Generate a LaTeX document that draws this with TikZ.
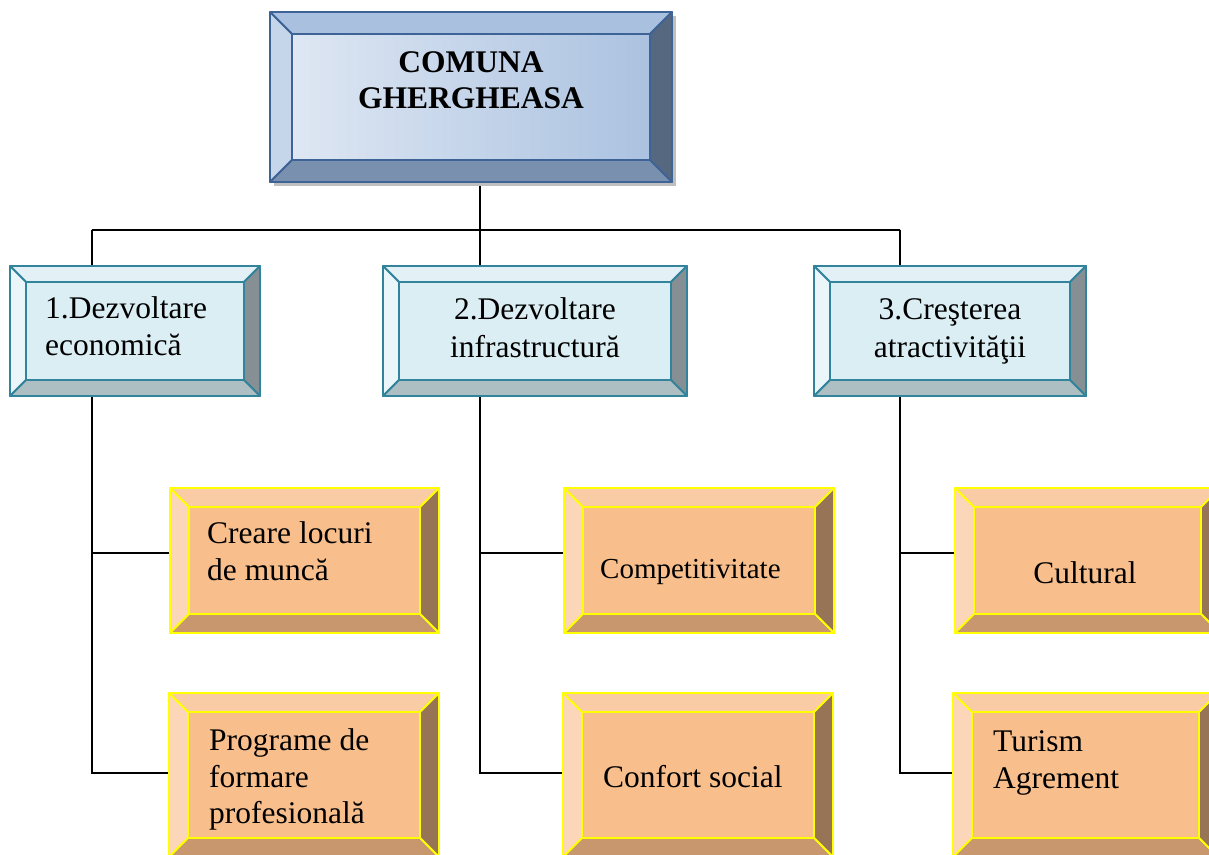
\documentclass[tikz,border=0pt]{standalone}
\usepackage{fontspec}
\setmainfont{Liberation Serif}
\usetikzlibrary{calc}
\definecolor{tbBorder}{HTML}{3E6397}
\definecolor{tbTop}{HTML}{A9C0DF}
\definecolor{tbLeft}{HTML}{C5D6EB}
\definecolor{tbRight}{HTML}{56687F}
\definecolor{tbBottom}{HTML}{7A90AF}
\definecolor{tbIn1}{HTML}{DEE7F3}
\definecolor{tbIn2}{HTML}{ABC2E0}
\definecolor{mbBorder}{HTML}{31849B}
\definecolor{mbTop}{HTML}{E3F1F6}
\definecolor{mbLeft}{HTML}{EBF6FA}
\definecolor{mbRight}{HTML}{868F94}
\definecolor{mbBottom}{HTML}{ADBFC2}
\definecolor{mbIn}{HTML}{DAEEF3}
\definecolor{obBorder}{HTML}{FFFF00}
\definecolor{obTop}{HTML}{FACCA5}
\definecolor{obLeft}{HTML}{FBD6B9}
\definecolor{obRight}{HTML}{977456}
\definecolor{obBottom}{HTML}{C8976D}
\definecolor{obIn}{HTML}{F8BF8D}
\newcommand\bevelframe[7]{%
  \coordinate (#1-inw) at ([xshift=#2pt,yshift=-#2pt]#1.north west);
  \coordinate (#1-ine) at ([xshift=-#2pt,yshift=-#2pt]#1.north east);
  \coordinate (#1-ise) at ([xshift=-#2pt,yshift=#2pt]#1.south east);
  \coordinate (#1-isw) at ([xshift=#2pt,yshift=#2pt]#1.south west);
  \filldraw[draw=#3, fill=#4, line join=round, line width=1.8pt] (#1.north west) -- (#1.north east) -- (#1-ine) -- (#1-inw) -- cycle;
  \filldraw[draw=#3, fill=#5, line join=round, line width=1.8pt] (#1.north west) -- (#1-inw) -- (#1-isw) -- (#1.south west) -- cycle;
  \filldraw[draw=#3, fill=#6, line join=round, line width=1.8pt] (#1.north east) -- (#1.south east) -- (#1-ise) -- (#1-ine) -- cycle;
  \filldraw[draw=#3, fill=#7, line join=round, line width=1.8pt] (#1.south west) -- (#1-isw) -- (#1-ise) -- (#1.south east) -- cycle;
}
\tikzset{
  boxnode/.style={inner sep=0pt, outer sep=0pt, rectangle},
  conn/.style={draw=black, line width=1.4pt},
  txt/.style={inner sep=0pt, anchor=base west, font=\fontsize{31.5}{37}\selectfont},
  txtc/.style={inner sep=0pt, anchor=base, font=\fontsize{31.5}{37}\selectfont},
}
\begin{document}
\begin{tikzpicture}[x=1pt, y=-1pt]
\useasboundingbox (0,0) rectangle (1209,854);
\clip (0,0) rectangle (1209,854);
\fill[white] (0,0) rectangle (1209,854);

% ---- box nodes
\node[boxnode, minimum width=402pt, minimum height=170pt] (top) at (471,97) {};
\node[boxnode, minimum width=250pt, minimum height=130pt] (b1) at (135,331) {};
\node[boxnode, minimum width=304pt, minimum height=130pt] (b2) at (535,331) {};
\node[boxnode, minimum width=272pt, minimum height=130pt] (b3) at (950,331) {};
\node[boxnode, minimum width=269pt, minimum height=145pt] (a1) at (304.5,560.5) {};
\node[boxnode, minimum width=270pt, minimum height=145pt] (a2) at (699,560.5) {};
\node[boxnode, minimum width=265pt, minimum height=145pt] (a3) at (1087.5,560.5) {};
\node[boxnode, minimum width=270pt, minimum height=164pt] (c1) at (304,775) {};
\node[boxnode, minimum width=270pt, minimum height=164pt] (c2) at (698,775) {};
\node[boxnode, minimum width=265pt, minimum height=164pt] (c3) at (1085.5,775) {};

% ---- connectors
\coordinate (j1) at (92,230);
\coordinate (j2) at (480,230);
\coordinate (j3) at (900,230);
\coordinate (r1) at (0,553);
\coordinate (r2) at (0,773);
\draw[conn] (top.south -| j2) -- (j2);
\draw[conn] (j1) -- (j3);
\draw[conn] (j1) -- (j1 |- b1.north);
\draw[conn] (j2) -- (j2 |- b2.north);
\draw[conn] (j3) -- (j3 |- b3.north);
\draw[conn] (j1 |- b1.south) -- (j1 |- r2) -- (r2 -| c1.west);
\draw[conn] (j1 |- r1) -- (r1 -| a1.west);
\draw[conn] (j2 |- b2.south) -- (j2 |- r2) -- (r2 -| c2.west);
\draw[conn] (j2 |- r1) -- (r1 -| a2.west);
\draw[conn] (j3 |- b3.south) -- (j3 |- r2) -- (r2 -| c3.west);
\draw[conn] (j3 |- r1) -- (r1 -| a3.west);

% ---- top box
\fill[black!25] ([xshift=4pt,yshift=-4pt]top.north west) rectangle ([xshift=4pt,yshift=-4pt]top.south east);
\bevelframe{top}{22}{tbBorder}{tbTop}{tbLeft}{tbRight}{tbBottom}
\shade[left color=tbIn1, right color=tbIn2] (top-isw) rectangle (top-ine);
\draw[tbBorder, line width=1.8pt] (top-isw) rectangle (top-ine);
\node[txtc, font=\fontsize{31.5}{37}\selectfont\bfseries] (tt1) at (471,72) {COMUNA};
\node[txtc, font=\fontsize{31.5}{37}\selectfont\bfseries] (tt2) at (471,108) {GHERGHEASA};

% ---- level 2
\foreach \n in {b1,b2,b3}{
  \bevelframe{\n}{16}{mbBorder}{mbTop}{mbLeft}{mbRight}{mbBottom}
  \filldraw[draw=mbBorder, fill=mbIn, line width=1.8pt] (\n-isw) rectangle (\n-ine);
}
\node[txt] (l1a) at (45,318) {1.Dezvoltare};
\node[txt] (l1b) at (45,355) {economică};
\node[txtc] (l2a) at (535,319) {2.Dezvoltare};
\node[txtc] (l2b) at (535,357) {infrastructură};
\node[txtc] (l3a) at (950,319) {3.Creşterea};
\node[txtc] (l3b) at (950,357) {atractivităţii};

% ---- level 3
\foreach \n in {a1,a2,a3,c1,c2,c3}{
  \bevelframe{\n}{19}{obBorder}{obTop}{obLeft}{obRight}{obBottom}
  \filldraw[draw=obBorder, fill=obIn, line width=1.8pt] (\n-isw) rectangle (\n-ine);
}
\node[txt] (k1a) at (207,543) {Creare locuri};
\node[txt] (k1b) at (207,580) {de muncă};
\node[txt, font=\fontsize{29}{35}\selectfont] (k2) at (600,578) {Competitivitate};
\node[txtc] (k3) at (1085,583) {Cultural};
\node[txt] (m1a) at (209,750) {Programe de};
\node[txt] (m1b) at (209,787) {formare};
\node[txt] (m1c) at (209,823) {profesională};
\node[txt] (m2) at (603,787) {Confort social};
\node[txt] (m3a) at (993,751) {Turism};
\node[txt] (m3b) at (993,788) {Agrement};
\end{tikzpicture}
\end{document}
